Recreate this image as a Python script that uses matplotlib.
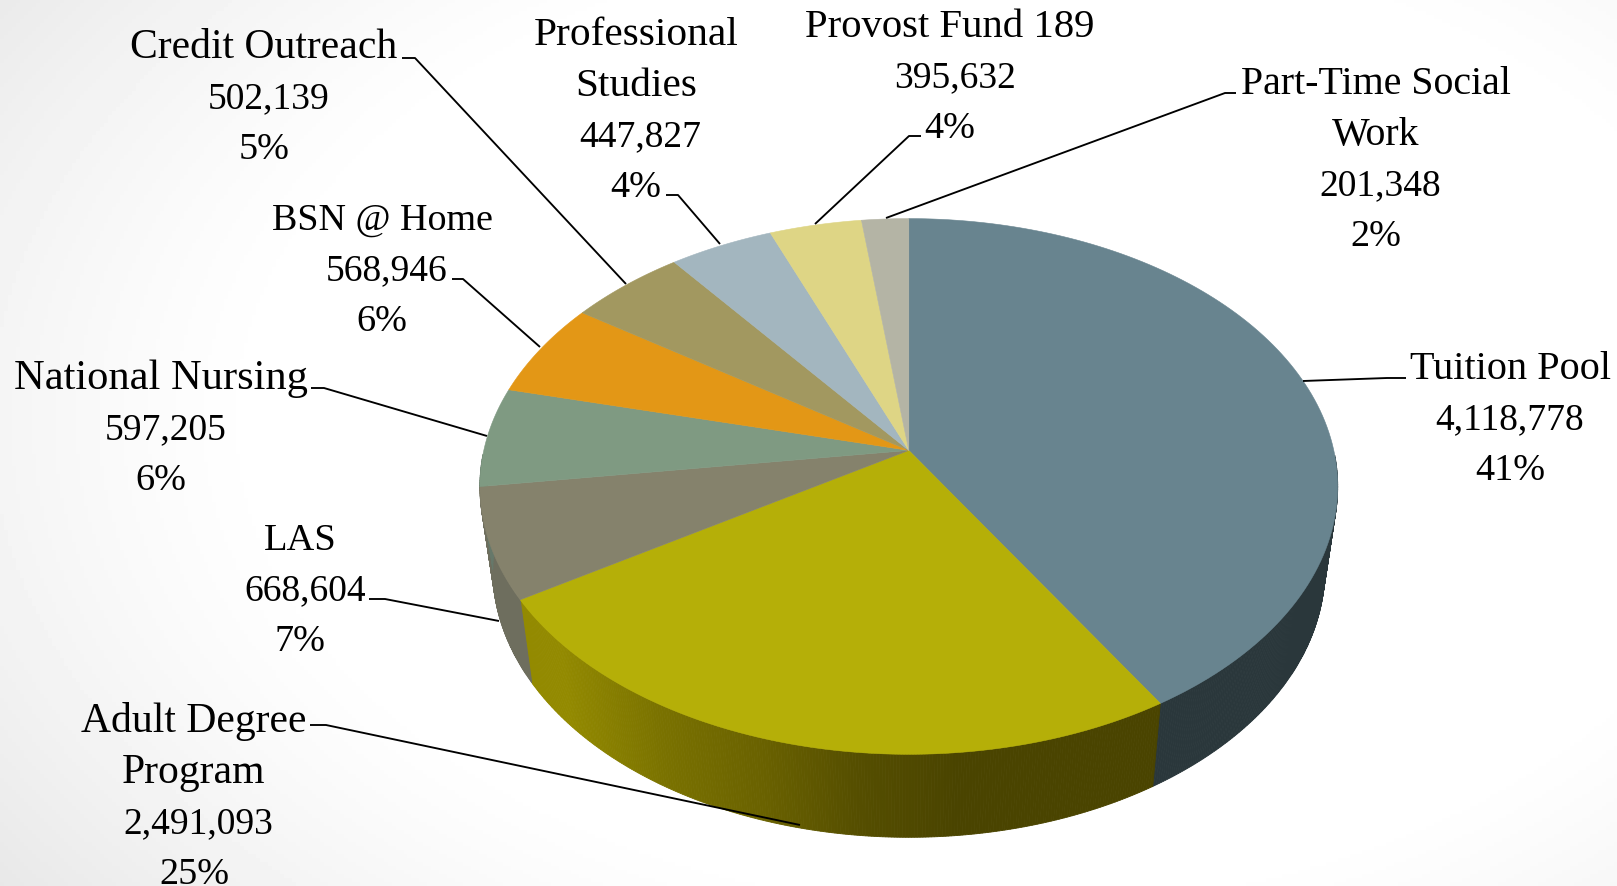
# 3D-look pie of funding sources, drawn by hand since matplotlib has no 3D pie
import numpy as np
import matplotlib
matplotlib.use('Agg')
import matplotlib.pyplot as plt
from matplotlib.colors import LinearSegmentedColormap, to_rgb

names = [['Tuition Pool'], ['Adult Degree', 'Program'], ['LAS'], ['National Nursing'],
         ['BSN @ Home'], ['Credit Outreach'], ['Professional', 'Studies'],
         ['Provost Fund 189'], ['Part-Time Social', 'Work']]
values = [4118778, 2491093, 668604, 597205, 568946, 502139, 447827, 395632, 201348]
top_colors = ['#68848f', '#b5af08', '#85826c', '#7f9a82', '#e39716',
              '#a29860', '#a3b6bf', '#ded585', '#b4b4a5']
wall_colors = ['#2a373b', '#4a4400', '#6e6e5e', '#66786a', '#a06a10',
               '#726a44', '#728086', '#9c965e', '#7e7e74']

# label centre x, first baseline y (full size pixels)
label_x = [1510, 194, 300, 161, 382, 264, 636, 950, 1376]
label_y = [379, 732, 550, 389, 230, 58, 45, 37, 94]
line_gap = 50.6
name_size = [29, 30, 27.7, 30.6, 27.4, 30, 29.8, 29.3, 28.7]
num_shift = [0, 4, 5, 5, 5, 5, 4, 5, 4]

# leader lines, slice end first
leaders = [[(1303, 382), (1387, 379), (1406, 379)],
           [(800, 826), (326, 726), (310, 726)],
           [(499, 622), (385, 600), (369, 600)],
           [(487, 437), (324, 389), (311, 389)],
           [(540, 348), (463, 280), (452, 280)],
           [(626, 285), (415, 59), (402, 59)],
           [(720, 245), (678, 196), (666, 196)],
           [(815, 225), (909, 137), (921, 137)],
           [(886, 219), (1225, 94), (1236, 94)]]

# perspective ellipse of the pie
cx, cy = 908.8, 451.4
R, B, K = 425, 263, 0.1346
depth, shrink = 83, 0.97

plt.rcParams['font.family'] = ['Liberation Serif', 'DejaVu Serif']

fig = plt.figure(figsize=(16.17, 8.87), dpi=100)
ax = fig.add_axes([0, 0, 1, 1])
ax.set_xlim(0, 1617)
ax.set_ylim(887, 0)
ax.axis('off')

# slide background, white centre going grey to the corners
yy, xx = np.mgrid[0:887:4, 0:1617:4]
dist = np.hypot((xx - 1000) / 1000, (yy - 420) / 640)
shade = 1 - 0.11 * np.clip((dist - 0.72) / 0.6, 0, 1) ** 1.3
ax.imshow(shade, cmap='gray', vmin=0, vmax=1, extent=(0, 1617, 887, 0), aspect='auto', zorder=0)


def top_pt(a):
    sx, sy = np.sin(a), np.cos(a)
    w = 1 + K * sy
    return cx + R * sx / w, cy - B * sy / w


def bottom_pt(a):
    x, y = top_pt(a)
    return cx + (x - cx) * shrink, y + depth


shares = np.array(values) / sum(values)
edges = np.concatenate([[0], np.cumsum(shares)]) * 2 * np.pi

adult_wall = LinearSegmentedColormap.from_list('adult', ['#938a00', '#7a7200', '#6a6200', '#554e00', '#4a4400'])

# side wall first, then the top faces over it; the back half of the wall is hidden
for i in range(len(values)):
    angs = np.arange(edges[i], edges[i + 1] + 0.004, 0.006)
    for a0, a1 in zip(angs[:-1], angs[1:]):
        if np.cos(a0) > -0.02 and np.cos(a1) > -0.02:
            continue
        x0, y0 = top_pt(a0)
        x1, y1 = top_pt(a1)
        x2, y2 = bottom_pt(a1)
        x3, y3 = bottom_pt(a0)
        if i == 1:
            col = adult_wall(np.clip((max(x0, x1) - 560) / 400, 0, 1))
        else:
            col = to_rgb(wall_colors[i])
        ax.fill([x0, x1, x2, x3], [y0, y1, y2, y3], color=col, lw=0.6, zorder=2)

for i in range(len(values)):
    angs = np.linspace(edges[i], edges[i + 1], 120)
    xs, ys = top_pt(angs)
    ax.fill(np.r_[cx, xs], np.r_[cy, ys], color=top_colors[i], lw=0.4, zorder=3)

for pts in leaders:
    ax.plot([p[0] for p in pts], [p[1] for p in pts], color='black', lw=1.35, zorder=4,
            solid_capstyle='butt')

for i in range(len(values)):
    y = label_y[i]
    for s in names[i]:
        ax.text(label_x[i], y, s, ha='center', va='baseline', fontsize=name_size[i],
                color='black', zorder=5)
        y += line_gap
    ax.text(label_x[i] + num_shift[i], y, f'{values[i]:,}', ha='center', va='baseline',
            fontsize=27, color='black', zorder=5)
    y += line_gap
    ax.text(label_x[i], y, f'{shares[i] * 100:.0f}%', ha='center', va='baseline',
            fontsize=27.5, color='black', zorder=5)

fig.savefig('out.png', dpi=100)
